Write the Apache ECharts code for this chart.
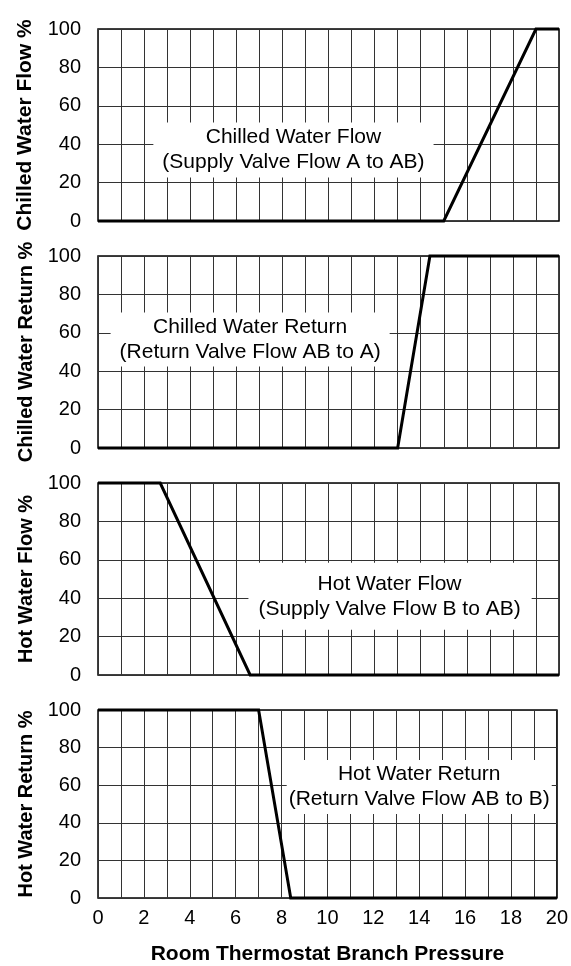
<!DOCTYPE html>
<html lang="en">
<head>
    <meta charset="UTF-8">
    <title>Valve flow vs branch pressure</title>
    <style>
        html, body { margin: 0; padding: 0; background: #fff; }
    </style>
</head>
<body>
    <div id="chart" style="width: 571px;height:966px;"></div>
</body>
<script type="text/javascript" src="https://cdn.jsdelivr.net/npm/echarts@6/dist/echarts.min.js"></script>
<script type="text/javascript">
    // data: break points of each curve
    var chilledFlowX = [0, 15, 19, 20];
    var chilledFlowY = [0, 0, 100, 100];
    var chilledReturnX = [0, 13, 14.4, 20];
    var chilledReturnY = [0, 0, 100, 100];
    var hotFlowX = [0, 2.7, 6.6, 20];
    var hotFlowY = [100, 100, 0, 0];
    var hotReturnX = [0, 7, 8.4, 20];
    var hotReturnY = [100, 100, 0, 0];

    var xTickLabels = [0, 2, 4, 6, 8, 10, 12, 14, 16, 18, 20];
    var yTickLabels = [0, 20, 40, 60, 80, 100];

    var panelNames = ['Chilled Water Flow %', 'Chilled Water Return %', 'Hot Water Flow %', 'Hot Water Return %'];
    var noteLines = [
        ['Chilled Water Flow', '(Supply Valve Flow A to AB)'],
        ['Chilled Water Return', '(Return Valve Flow AB to A)'],
        ['Hot Water Flow', '(Supply Valve Flow B to AB)'],
        ['Hot Water Return', '(Return Valve Flow AB to B)']
    ];
    var xTitle = 'Room Thermostat Branch Pressure';

    // where each note box sits (axis units) and its white padding
    var noteAt = [[8.48, 37], [6.6, 56.5], [12.67, 41], [14.0, 59]];
    var notePad = [[3, 9, 2, 9], [0, 9, 4, 9], [12, 11, 5, 10], [0, 2, 4, 2]];
    var nameSizes = [21, 20, 20, 20];

    var font = '"Liberation Sans", Arial, Helvetica, sans-serif';
    var panelTops = [29, 256, 483, 710];
    var pairs = function (xs, ys) { return xs.map(function (x, i) { return [x, ys[i]]; }); };
    var seriesData = [
        pairs(chilledFlowX, chilledFlowY),
        pairs(chilledReturnX, chilledReturnY),
        pairs(hotFlowX, hotFlowY),
        pairs(hotReturnX, hotReturnY)
    ];

    var myChart = echarts.init(document.getElementById('chart'), null, { renderer: 'canvas' });

    var grids = [], xAxes = [], yAxes = [], series = [];
    for (var i = 0; i < 4; i++) {
        var last = i === 3;
        grids.push({
            left: 98, right: 12, top: panelTops[i], height: 192,
            show: true, borderColor: '#000', borderWidth: 1.5, backgroundColor: 'transparent'
        });
        xAxes.push({
            gridIndex: i, type: 'value', min: 0, max: 20, interval: 1,
            axisLine: { show: false }, axisTick: { show: false },
            splitLine: { show: true, lineStyle: { color: '#333', width: 1 } },
            axisLabel: {
                show: last, margin: 10, color: '#000', fontSize: 20, fontFamily: font,
                formatter: function (v) { return xTickLabels.indexOf(v) >= 0 ? String(v) : ''; }
            },
            name: last ? xTitle : '', nameLocation: 'middle', nameGap: 46,
            nameTextStyle: { color: '#000', fontSize: 21, fontWeight: 'bold', fontFamily: font }
        });
        yAxes.push({
            gridIndex: i, type: 'value', min: 0, max: 100, interval: 20,
            axisLine: { show: false }, axisTick: { show: false },
            splitLine: { show: true, lineStyle: { color: '#333', width: 1 } },
            axisLabel: {
                margin: 17, color: '#000', fontSize: 20, fontFamily: font,
                formatter: function (v) { return yTickLabels.indexOf(v) >= 0 ? String(v) : ''; }
            },
            name: panelNames[i], nameLocation: 'middle', nameGap: 62,
            nameTextStyle: { color: '#000', fontSize: nameSizes[i], fontWeight: 'bold', fontFamily: font }
        });
        series.push({
            type: 'line', xAxisIndex: i, yAxisIndex: i, data: seriesData[i],
            showSymbol: false, clip: false, animation: false, z: 10,
            lineStyle: { color: '#000', width: 3, join: 'miter' }
        });
    }

    myChart.setOption({
        animation: false,
        grid: grids, xAxis: xAxes, yAxis: yAxes, series: series
    });

    // white note boxes, anchored through each panel's own axes
    var notes = noteLines.map(function (lines, i) {
        var p = myChart.convertToPixel({ gridIndex: i }, noteAt[i]);
        return {
            type: 'text', x: p[0], y: p[1], z: 20,
            style: {
                text: lines.join('\n'), fill: '#000', font: '21px ' + font,
                align: 'center', verticalAlign: 'middle', lineHeight: 25,
                backgroundColor: '#fff', padding: notePad[i]
            }
        };
    });
    myChart.setOption({ graphic: notes });
</script>
</html>
